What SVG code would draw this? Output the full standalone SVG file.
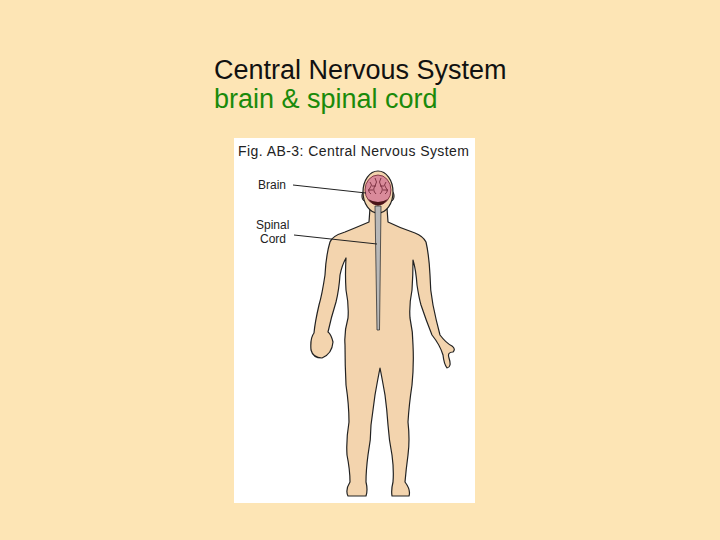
<svg xmlns="http://www.w3.org/2000/svg" width="720" height="540" viewBox="0 0 720 540">
<style>
.lbl{font-family:"Liberation Sans",Arial,sans-serif;font-size:12px;fill:#222}
.body{fill:#f3d4ae;stroke:#222;stroke-width:1.2;stroke-linejoin:round}
.lead{stroke:#222;stroke-width:1;fill:none}
</style>
<rect width="720" height="540" fill="#fde5b5"/>
<text x="214" y="79" font-family="Liberation Sans,Arial,sans-serif" font-size="27" fill="#111">Central Nervous System</text>
<text x="214" y="108" font-family="Liberation Sans,Arial,sans-serif" font-size="27" fill="#1a8a0a">brain &amp; spinal cord</text>
<rect x="234" y="138" width="241" height="365" fill="#fff"/>
<text x="238" y="156" font-family="Liberation Sans,Arial,sans-serif" font-size="14" fill="#222" textLength="231">Fig. AB-3: Central Nervous System</text>
<g id="body">
<path class="body" d="M370,208 L369,222 Q355,228 345,232 Q332,236 330,242 Q326,255 325,275 Q322,295 319,305 Q315,322 314,333 Q310,338 311,350 Q313,358 322,358 Q332,354 333,342 Q331,334 328,332 Q331,318 336,302 Q339,290 340,275 Q342,265 346,258 Q345,275 346,290 Q349,305 348,318 Q344,332 345,345 Q345,365 346,385 Q349,405 349,422 Q346,440 347,455 Q350,470 350,482 Q345,490 348,496 L366,496 Q368,490 366,482 Q366,470 368,455 Q371,440 371,425 Q373,410 375,395 Q378,378 380,368 Q382,378 385,395 Q387,410 388,425 Q389,440 392,455 Q394,470 393,482 Q391,490 392,496 L409,496 Q411,490 405,482 Q406,470 408,455 Q410,440 408,422 Q409,405 412,385 Q414,365 413,345 Q413,332 410,318 Q409,305 412,290 Q413,275 413,260 Q416,270 417,285 Q419,298 421,305 Q426,320 432,335 Q440,345 443,355 Q444,364 447,368 Q452,367 449,358 Q447,352 453,352 Q456,349 452,346 Q446,343 440,335 Q436,320 433,305 Q430,290 430,275 Q429,255 426,242 Q423,236 415,233 Q400,228 388,222 L387,208 Z"/>
<ellipse class="body" cx="365" cy="196" rx="3" ry="5"/>
<ellipse class="body" cx="391" cy="196" rx="3" ry="5"/>
<ellipse class="body" cx="378" cy="192" rx="15" ry="21"/>
</g>
<g id="brain">
<ellipse cx="378" cy="190" rx="13" ry="15" fill="#d98a9a" stroke="#6a2030" stroke-width="0.8"/>
<path d="M368,199 Q378,212 388,199 Q378,205 368,199 Z" fill="#4a1518"/>
<path d="M370,182 q3,3 0,6 q-3,3 1,6 M375,178 q3,4 0,8 q-3,4 1,8 M381,178 q-3,4 0,8 q3,4 -1,8 M386,182 q-3,3 0,6 q3,3 -1,6 M368,190 h5 M383,190 h5 M372,186 h4 M380,186 h4" stroke="#6a2030" stroke-width="0.8" fill="none"/>
</g>
<g id="spinal-cord">
<path d="M375,206 L381,206 L379.5,330 L377,330 Z" fill="#b8b8b8" stroke="#333" stroke-width="0.8"/>
</g>
<g id="labels">
<text class="lbl" x="258" y="189">Brain</text>
<text class="lbl" x="256" y="229">Spinal</text>
<text class="lbl" x="260" y="243">Cord</text>
</g>
<g id="connectors">
<line class="lead" x1="293" y1="185" x2="366" y2="193"/>
<line class="lead" x1="294" y1="235" x2="377" y2="244"/>
</g>
</svg>
